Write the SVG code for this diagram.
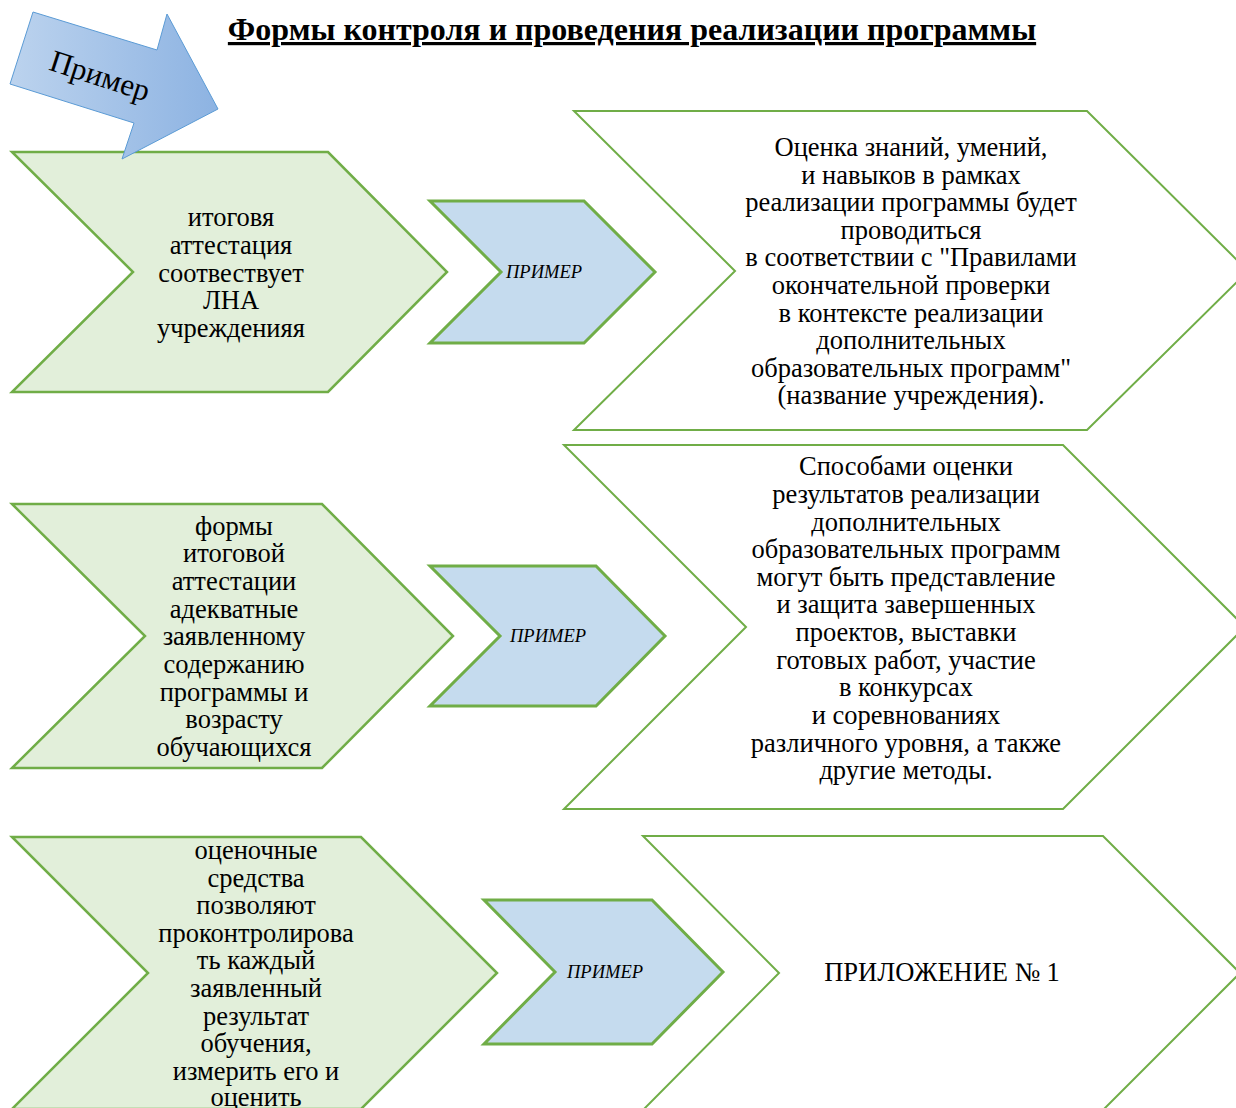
<svg xmlns="http://www.w3.org/2000/svg" width="1236" height="1108" viewBox="0 0 1236 1108">
<defs>
<linearGradient id="gArrow" x1="0" y1="0" x2="1" y2="0">
<stop offset="0" stop-color="#bcd3ee"/>
<stop offset="1" stop-color="#8db3e2"/>
</linearGradient>
<style>
.green{fill:#e2efda;stroke:#70ad47;stroke-width:2.5;stroke-linejoin:miter}
.blue{fill:#c5dbee;stroke:#70ad47;stroke-width:3;stroke-linejoin:miter}
.white{fill:#ffffff;stroke:#70ad47;stroke-width:2;stroke-linejoin:miter}
.t{font-family:"Liberation Serif","Times New Roman",serif;font-size:26.5px;fill:#000;text-anchor:middle}
.p{font-family:"Liberation Serif","Times New Roman",serif;font-size:18.5px;font-style:italic;fill:#000;text-anchor:middle}
</style>
</defs>
<rect width="1236" height="1108" fill="#ffffff"/>

<text x="632" y="40" font-family="Liberation Serif, Times New Roman, serif" font-size="32" font-weight="bold" text-anchor="middle" text-decoration="underline">Формы контроля и проведения реализации программы</text>

<g id="connectors"></g>

<g id="row1-green">
<polygon class="green" points="12,152 328,152 447,272 328,392 12,392 133,272"/>
<text class="t" x="231" y="226">итоговя</text>
<text class="t" x="231" y="254">аттестация</text>
<text class="t" x="231" y="282">соотвествует</text>
<text class="t" x="231" y="309">ЛНА</text>
<text class="t" x="231" y="337">учреждения<tspan>я</tspan></text>
</g>
<g id="row1-blue">
<polygon class="blue" points="430,201 584,201 655,272 584,343 430,343 501,272"/>
<text class="p" x="544" y="278">ПРИМЕР</text>
</g>
<g id="row1-white">
<polygon class="white" points="574,111 1087,111 1248,271 1087,430 574,430 735,271"/>
<text class="t" x="911" y="156">Оценка знаний, умений,</text>
<text class="t" x="911" y="184">и навыков в рамках</text>
<text class="t" x="911" y="211">реализации программы будет</text>
<text class="t" x="911" y="239">проводиться</text>
<text class="t" x="911" y="266">в соответствии с "Правилами</text>
<text class="t" x="911" y="294">окончательной проверки</text>
<text class="t" x="911" y="322">в контексте реализации</text>
<text class="t" x="911" y="349">дополнительных</text>
<text class="t" x="911" y="377">образовательных программ"</text>
<text class="t" x="911" y="404">(название учреждения).</text>
</g>

<g id="row2-green">
<polygon class="green" points="12,504 322,504 453,636 322,768 12,768 145,636"/>
<text class="t" x="234" y="535">формы</text>
<text class="t" x="234" y="562">итоговой</text>
<text class="t" x="234" y="590">аттестации</text>
<text class="t" x="234" y="618">адекватные</text>
<text class="t" x="234" y="645">заявленному</text>
<text class="t" x="234" y="673">содержанию</text>
<text class="t" x="234" y="701">программы и</text>
<text class="t" x="234" y="728">возрасту</text>
<text class="t" x="234" y="756">обучающихся</text>
</g>
<g id="row2-blue">
<polygon class="blue" points="430,566 596,566 665,636 596,706 430,706 500,636"/>
<text class="p" x="548" y="642">ПРИМЕР</text>
</g>
<g id="row2-white">
<polygon class="white" points="564,445 1063,445 1245,627 1063,809 564,809 746,627"/>
<text class="t" x="906" y="475">Способами оценки</text>
<text class="t" x="906" y="503">результатов реализации</text>
<text class="t" x="906" y="531">дополнительных</text>
<text class="t" x="906" y="558">образовательных программ</text>
<text class="t" x="906" y="586">могут быть представление</text>
<text class="t" x="906" y="613">и защита завершенных</text>
<text class="t" x="906" y="641">проектов, выставки</text>
<text class="t" x="906" y="669">готовых работ, участие</text>
<text class="t" x="906" y="696">в конкурсах</text>
<text class="t" x="906" y="724">и соревнованиях</text>
<text class="t" x="906" y="752">различного уровня, а также</text>
<text class="t" x="906" y="779">другие методы.</text>
</g>

<g id="row3-green">
<polygon class="green" points="12,837 361,837 497,973 361,1109 12,1109 148,973"/>
<text class="t" x="256" y="859">оценочные</text>
<text class="t" x="256" y="887">средства</text>
<text class="t" x="256" y="914">позволяют</text>
<text class="t" x="256" y="942">проконтролирова</text>
<text class="t" x="256" y="969">ть каждый</text>
<text class="t" x="256" y="997">заявленный</text>
<text class="t" x="256" y="1025">результат</text>
<text class="t" x="256" y="1052">обучения,</text>
<text class="t" x="256" y="1080">измерить его и</text>
<text class="t" x="256" y="1106">оценить</text>
</g>
<g id="row3-blue">
<polygon class="blue" points="484,900 652,900 723,972 652,1044 484,1044 555,972"/>
<text class="p" x="605" y="978">ПРИМЕР</text>
</g>
<g id="row3-white">
<polygon class="white" points="643,836 1103,836 1240,973 1103,1110 643,1110 779,973"/>
<text class="t" x="942" y="981">ПРИЛОЖЕНИЕ № 1</text>
</g>

<g id="example-arrow">
<polygon points="33,12 157,50 167,14 218,109 122,159 134,123 10,84" fill="url(#gArrow)" stroke="#5b9bd5" stroke-width="1"/>
<text x="100" y="86" transform="rotate(18 100 76)" font-family="Liberation Serif, Times New Roman, serif" font-size="31" text-anchor="middle">Пример</text>
</g>
</svg>
